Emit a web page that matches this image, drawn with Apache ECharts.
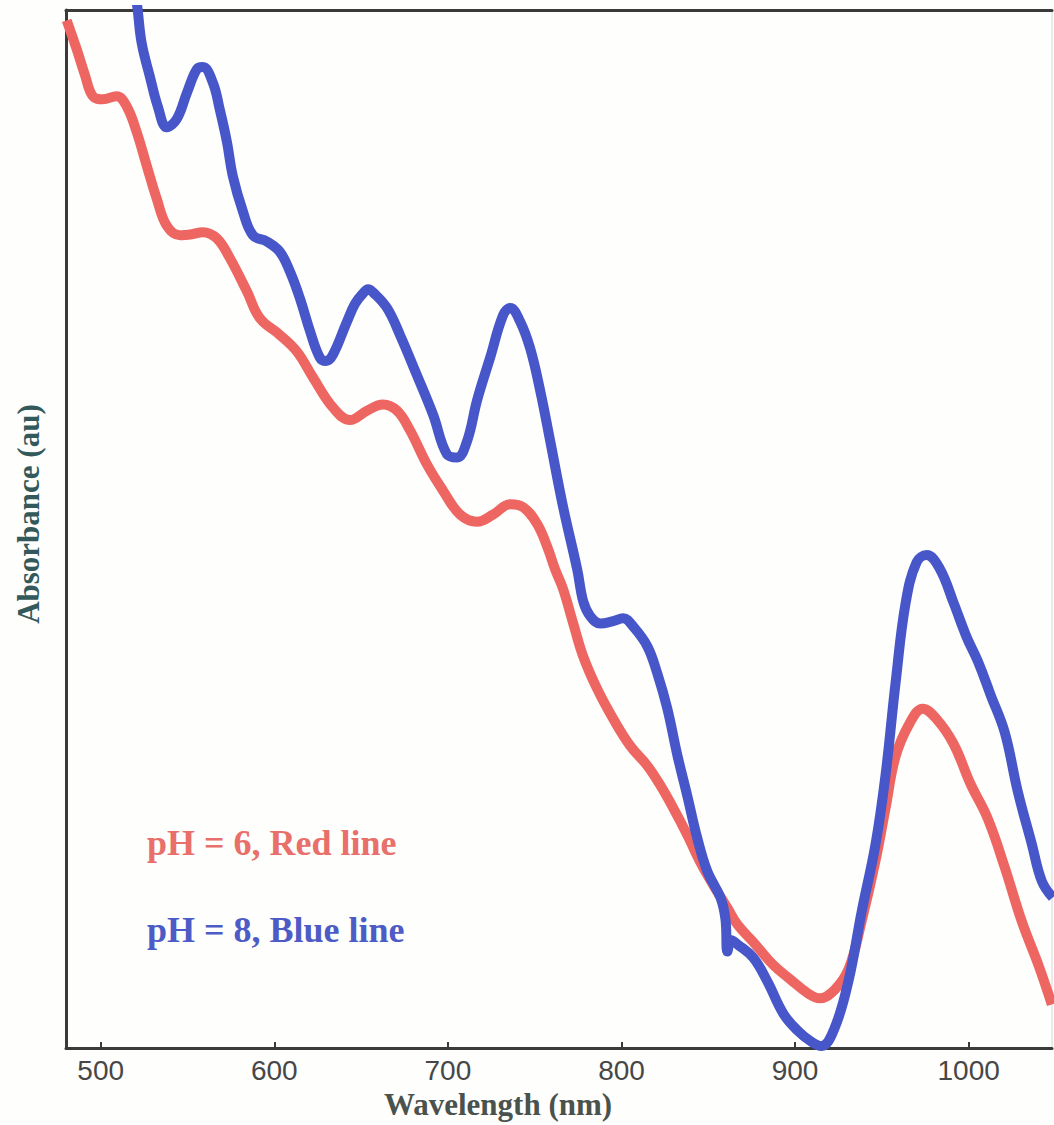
<!DOCTYPE html>
<html>
<head>
<meta charset="utf-8">
<script src="https://cdn.jsdelivr.net/npm/echarts@6/dist/echarts.min.js"></script>
<style>
html,body{margin:0;padding:0;background:#fefefc;}
#chart{width:1054px;height:1125px;}
</style>
</head>
<body>
<div id="chart"></div>
<script>
// Wavelength tick labels (nm)
const xTicks = [500, 600, 700, 800, 900, 1000];

// pH = 6 (red line)
const wavelengthRed = [480.4,486.2,490.8,495.4,501.2,509.2,515.0,520.8,526.5,532.3,538.1,545.6,552.5,558.8,566.9,574.4,584.2,591.7,603.2,613.0,622.3,633.8,643.6,653.4,662.6,670.7,678.2,688.0,697.2,707.0,716.8,726.1,735.9,743.4,751.4,757.2,761.8,766.4,772.2,778.0,786.0,795.3,805.1,814.9,822.4,829.9,838.0,845.4,852.9,861.0,866.8,876.0,887.5,897.4,907.2,914.1,922.7,930.8,938.3,946.4,952.1,957.9,966.0,973.5,981.5,991.3,1001.2,1011.0,1020.8,1030.6,1040.4,1047.9];
const absRed = [99.0,96.2,93.8,91.7,91.4,91.7,90.7,88.2,85.0,81.8,79.2,78.3,78.4,78.6,78.0,76.1,72.9,70.3,68.7,67.1,64.6,61.7,60.5,61.4,62.0,61.4,59.5,56.2,53.7,51.4,50.7,51.4,52.4,52.1,50.5,48.3,46.1,44.2,40.9,37.7,34.6,31.7,29.1,27.2,25.3,23.1,20.5,17.9,15.7,13.5,11.9,10.2,8.0,6.6,5.3,4.8,5.6,7.6,12.2,18.1,23.1,28.1,31.3,32.7,31.7,29.3,25.4,22.1,17.4,12.2,7.9,4.2];

// pH = 8 (blue line)
const wavelengthBlue = [519.0,521.3,523.6,528.3,532.9,538.1,543.8,549.6,555.4,558.8,564.6,568.6,572.7,576.1,581.9,587.7,595.7,603.2,609.0,614.8,620.5,626.3,629.8,633.8,641.9,646.5,651.1,654.0,656.9,664.9,672.4,682.2,691.5,699.5,705.3,711.1,716.8,724.3,731.8,735.9,741.6,747.4,753.2,758.9,766.4,774.5,778.0,782.0,787.8,794.7,801.0,806.8,814.9,820.6,826.4,832.2,837.9,843.7,849.5,857.0,859.9,861.0,863.3,866.8,876.0,884.1,893.3,901.4,909.5,915.2,922.7,930.8,938.3,946.4,952.1,957.9,963.7,970.0,975.8,983.3,991.3,998.8,1005.2,1012.7,1020.8,1028.3,1036.3,1042.1,1048.4];
const absBlue = [103.0,100.0,96.8,93.6,90.7,88.7,89.5,92.0,94.3,94.5,93.0,90.4,87.3,84.0,80.6,78.3,77.7,76.7,74.8,72.2,69.1,66.5,66.2,66.8,70.0,71.7,72.7,73.1,72.8,71.3,68.7,64.8,61.0,57.2,56.9,58.5,62.4,66.5,70.6,71.3,70.0,67.4,63.3,58.5,52.1,46.1,43.0,41.6,40.9,41.1,41.4,40.6,38.7,36.1,32.7,28.2,24.3,20.2,17.0,14.5,12.4,9.3,10.4,10.0,8.7,6.4,3.3,1.7,0.6,0.2,1.9,6.5,13.1,19.7,26.3,35.2,42.9,46.8,47.5,46.2,42.9,39.6,37.3,34.0,30.4,24.7,19.7,16.1,14.5];

const seriesNames = ['pH = 6, Red line', 'pH = 8, Blue line'];
const redColor = '#ee6662';
const blueColor = '#4756c9';

const redData = wavelengthRed.map((x, i) => [x, absRed[i]]);
const blueData = wavelengthBlue.map((x, i) => [x, absBlue[i]]);

const chart = echarts.init(document.getElementById('chart'), null, {renderer: 'svg'});
chart.setOption({
  backgroundColor: '#fefefc',
  animation: false,
  grid: {left: 66, right: 2, top: 10, bottom: 71, show: true, borderColor: '#d8d8d8', borderWidth: 1, backgroundColor: 'transparent'},
  xAxis: [{
    type: 'value', min: 480, max: 1048, position: 'bottom',
    name: 'Wavelength (nm)', nameLocation: 'middle', nameGap: 36,
    nameTextStyle: {fontFamily: 'Liberation Serif', fontWeight: 'bold', fontSize: 31, color: '#4a524e', padding: [0, 122, 0, 0]},
    axisLine: {show: true, lineStyle: {color: '#3a3a3a', width: 3}},
    axisTick: {show: true, inside: true, length: 6, customValues: xTicks, lineStyle: {color: '#3a3a3a', width: 2}},
    axisLabel: {customValues: xTicks, formatter: v => String(v), fontFamily: 'Liberation Sans', fontSize: 28, color: '#474747', margin: 8},
    splitLine: {show: false}
  }, {
    type: 'value', min: 480, max: 1048, position: 'top',
    axisLine: {show: true, lineStyle: {color: '#3a3a3a', width: 3}},
    axisTick: {show: false}, axisLabel: {show: false}, splitLine: {show: false}
  }],
  yAxis: {
    type: 'value', min: 0, max: 100,
    name: 'Absorbance (au)', nameLocation: 'middle', nameGap: 22,
    nameTextStyle: {fontFamily: 'Liberation Serif', fontWeight: 'bold', fontSize: 31, color: '#33595a', padding: [0, 0, 0, 30]},
    axisLine: {show: true, lineStyle: {color: '#3a3a3a', width: 3}},
    axisTick: {show: false}, axisLabel: {show: false}, splitLine: {show: false}
  },
  graphic: [
    {type: 'text', left: 147, top: 825, style: {text: seriesNames[0], fill: '#e96f6a', font: 'bold 36px "Liberation Serif"'}},
    {type: 'text', left: 147, top: 912, style: {text: seriesNames[1], fill: '#4d5bc6', font: 'bold 36px "Liberation Serif"'}}
  ],
  series: [
    {name: seriesNames[0], type: 'line', data: redData, smooth: 0.4, showSymbol: false, clip: true, lineStyle: {color: redColor, width: 10}, z: 2},
    {name: seriesNames[1], type: 'line', data: blueData, smooth: 0.4, showSymbol: false, clip: true, lineStyle: {color: blueColor, width: 10}, z: 3}
  ]
});
</script>
</body>
</html>
